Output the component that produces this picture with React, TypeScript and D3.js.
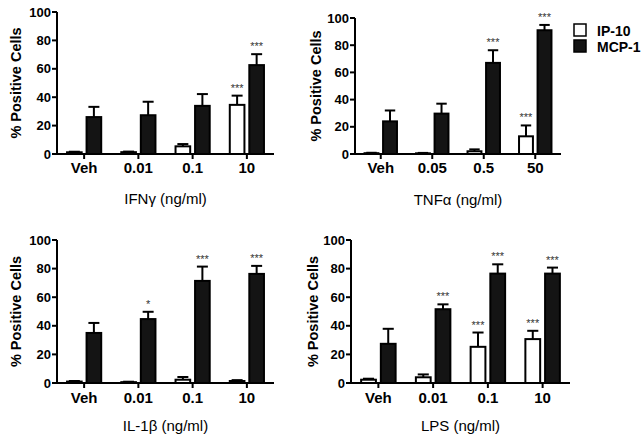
import React from "react";
import * as d3 from "d3";

// ---- data ----
const seriesNames = ["IP-10", "MCP-1"];
const yTicks = [0, 20, 40, 60, 80, 100];

const ifnCats = ["Veh", "0.01", "0.1", "10"];
const ifnIP10 = [1.2, 1.3, 5.4, 34.6];
const ifnIP10Err = [0.4, 0.4, 1.6, 6.5];
const ifnMCP1 = [26, 27.3, 33.9, 62.6];
const ifnMCP1Err = [7.2, 9.5, 8.3, 7.7];
const ifnIP10Sig = ["", "", "", "***"];
const ifnMCP1Sig = ["", "", "", "***"];

const tnfCats = ["Veh", "0.05", "0.5", "50"];
const tnfIP10 = [0.6, 0.5, 2, 13];
const tnfIP10Err = [0.3, 0.3, 1.4, 8];
const tnfMCP1 = [24, 29.7, 67, 91];
const tnfMCP1Err = [8, 7.3, 9.3, 3.9];
const tnfIP10Sig = ["", "", "", "***"];
const tnfMCP1Sig = ["", "", "***", "***"];

const il1Cats = ["Veh", "0.01", "0.1", "10"];
const il1IP10 = [1, 0.6, 2.3, 1.4];
const il1IP10Err = [0.4, 0.3, 1.9, 0.6];
const il1MCP1 = [35, 44.7, 71.4, 76.3];
const il1MCP1Err = [7, 5.1, 10, 5.6];
const il1IP10Sig = ["", "", "", ""];
const il1MCP1Sig = ["", "*", "***", "***"];

const lpsCats = ["Veh", "0.01", "0.1", "10"];
const lpsIP10 = [2.3, 4, 25.3, 30.7];
const lpsIP10Err = [0.7, 2, 10, 5.8];
const lpsMCP1 = [27.4, 51.6, 76.5, 76.5];
const lpsMCP1Err = [10.5, 3.4, 6.5, 4.2];
const lpsIP10Sig = ["", "", "***", "***"];
const lpsMCP1Sig = ["", "***", "***", "***"];

const xTitles = ["IFN\u03B3 (ng/ml)", "TNF\u03B1 (ng/ml)", "IL-1\u03B2 (ng/ml)", "LPS (ng/ml)"];
const yTitle = "% Positive Cells";

const FONT = "'Liberation Sans', Arial, Helvetica, sans-serif";

type PanelProps = {
  cats: string[];
  ip: number[]; ipErr: number[]; ipSig: string[];
  mcp: number[]; mcpErr: number[]; mcpSig: string[];
  xTitle: string;
  x0: number; x1: number; y0: number; y100: number;
  yTitleX: number; tickBase: number; xTitleBase: number;
};

function Panel(p: PanelProps) {
  const x = d3.scalePoint<string>().domain(p.cats).range([p.x0, p.x1]).padding(0.5);
  const y = d3.scaleLinear().domain([0, 100]).range([p.y0, p.y100]);
  const step = x.step();
  const bw = step * 0.27;
  const gap = step * 0.09;
  const capW = bw * 0.75;
  const cx = (p.x0 + p.x1) / 2;
  const cy = (p.y0 + p.y100) / 2;

  const bar = (c: string, v: number, e: number, sig: string, side: number, fill: string) => {
    const center = x(c)!;
    const left = side < 0 ? center - gap / 2 - bw : center + gap / 2;
    const mid = left + bw / 2;
    const top = y(v);
    const et = y(v + e);
    return (
      <g key={c + side}>
        <line x1={mid} x2={mid} y1={top} y2={et} stroke="#000" strokeWidth={2} />
        <line x1={mid - capW / 2} x2={mid + capW / 2} y1={et} y2={et} stroke="#000" strokeWidth={2} />
        <rect x={left} y={top} width={bw} height={p.y0 - top} fill={fill} stroke="#000" strokeWidth={2} />
        {sig ? (
          <text x={mid} y={et - 4} textAnchor="middle" fontSize={11} fill="#333" fontFamily={FONT}>{sig}</text>
        ) : null}
      </g>
    );
  };

  return (
    <g>
      {p.cats.map((c, i) => bar(c, p.ip[i], p.ipErr[i], p.ipSig[i], -1, "#fff"))}
      {p.cats.map((c, i) => bar(c, p.mcp[i], p.mcpErr[i], p.mcpSig[i], 1, "#141414"))}
      <line x1={p.x0} x2={p.x0} y1={p.y0 + 1} y2={p.y100} stroke="#000" strokeWidth={2} />
      <line x1={p.x0} x2={p.x1} y1={p.y0} y2={p.y0} stroke="#000" strokeWidth={2} />
      {yTicks.map((t) => (
        <g key={t}>
          <line x1={p.x0 - 5} x2={p.x0} y1={y(t)} y2={y(t)} stroke="#000" strokeWidth={2} />
          <text x={p.x0 - 6} y={y(t)} dy="0.36em" textAnchor="end" fontSize={13} fontWeight="bold" fontFamily={FONT}>{t}</text>
        </g>
      ))}
      {p.cats.map((c) => (
        <g key={c}>
          <line x1={x(c)} x2={x(c)} y1={p.y0} y2={p.y0 + 5} stroke="#000" strokeWidth={2} />
          <text x={x(c)} y={p.tickBase} textAnchor="middle" fontSize={15} fontWeight="bold" fontFamily={FONT}>{c}</text>
        </g>
      ))}
      <text x={cx} y={p.xTitleBase} textAnchor="middle" fontSize={15} fontFamily={FONT}>{p.xTitle}</text>
      <text transform={`translate(${p.yTitleX},${cy}) rotate(-90)`} textAnchor="middle" fontSize={14.5} fontWeight="bold" fontFamily={FONT}>{yTitle}</text>
    </g>
  );
}

export default function App() {
  return (
    <svg width={643} height={444} style={{ position: "absolute", left: 0, top: 0, background: "#fff" }}>
      <rect width={643} height={444} fill="#fff" />
      <Panel cats={ifnCats} ip={ifnIP10} ipErr={ifnIP10Err} ipSig={ifnIP10Sig} mcp={ifnMCP1} mcpErr={ifnMCP1Err} mcpSig={ifnMCP1Sig}
        xTitle={xTitles[0]} x0={57} x1={274} y0={154} y100={12} yTitleX={21} tickBase={173} xTitleBase={204} />
      <Panel cats={tnfCats} ip={tnfIP10} ipErr={tnfIP10Err} ipSig={tnfIP10Sig} mcp={tnfMCP1} mcpErr={tnfMCP1Err} mcpSig={tnfMCP1Sig}
        xTitle={xTitles[1]} x0={355} x1={561} y0={154} y100={18} yTitleX={321} tickBase={173} xTitleBase={205} />
      <Panel cats={il1Cats} ip={il1IP10} ipErr={il1IP10Err} ipSig={il1IP10Sig} mcp={il1MCP1} mcpErr={il1MCP1Err} mcpSig={il1MCP1Sig}
        xTitle={xTitles[2]} x0={57} x1={274} y0={383} y100={240} yTitleX={21} tickBase={403} xTitleBase={431} />
      <Panel cats={lpsCats} ip={lpsIP10} ipErr={lpsIP10Err} ipSig={lpsIP10Sig} mcp={lpsMCP1} mcpErr={lpsMCP1Err} mcpSig={lpsMCP1Sig}
        xTitle={xTitles[3]} x0={351} x1={570} y0={383} y100={240} yTitleX={318} tickBase={403} xTitleBase={431} />
      <g>
        {seriesNames.map((s, i) => (
          <g key={s}>
            <rect x={574} y={24 + i * 16} width={12} height={12} fill={i === 0 ? "#fff" : "#141414"} stroke="#000" strokeWidth={1.5} />
            <text x={597} y={36 + i * 16} fontSize={14} fontWeight="bold" fontFamily={FONT}>{s}</text>
          </g>
        ))}
      </g>
    </svg>
  );
}
